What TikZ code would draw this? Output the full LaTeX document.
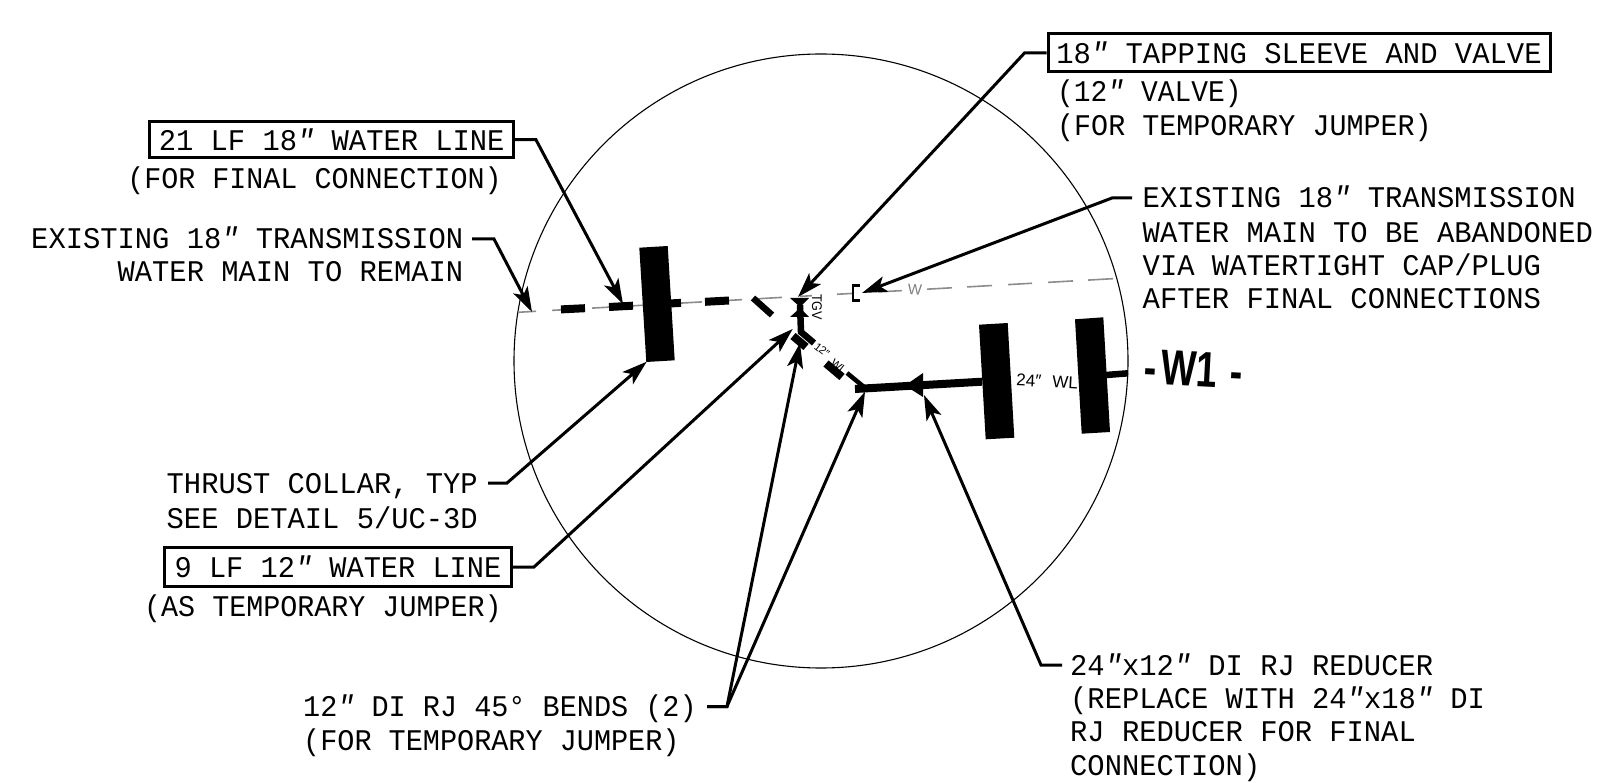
\documentclass[tikz,border=0pt]{standalone}
\usepackage{fontspec}
\usepackage{graphicx}
\setmainfont{Liberation Sans}
\newfontfamily\callout{Liberation Mono}
\newcommand{\inch}{{\itshape ″}}
\usetikzlibrary{arrows.meta}
\tikzset{
  lbl/.style={font=\callout\fontsize{30}{33}\selectfont, inner sep=0pt, text=black, xscale=.96},
  lw/.style={lbl, anchor=base west},
  le/.style={lbl, anchor=base east},
  tagbox/.style={draw=black, line width=3pt, inner sep=0pt, font=\callout\fontsize{30}{33}\selectfont},
  leader/.style={line width=3pt, draw=black, line join=miter, -{Stealth[length=25pt,width=16pt,inset=6pt]}},
  pipeA/.style={line width=8pt, draw=black},
  pipeB/.style={line width=6.5pt, draw=black},
  pipeC/.style={line width=4.5pt, draw=black},
  exist/.style={line width=1.6pt, draw=black!45},
  collar/.style={fill=black, draw=none},
  small/.style={font=\fontsize{17}{18}\selectfont, inner sep=0pt},
  tiny/.style={font=\fontsize{11}{12}\selectfont, inner sep=0pt},
}
\begin{document}
\begin{tikzpicture}[x=1pt,y=-1pt]
\useasboundingbox (0,0) rectangle (1601,783);
% key circle
\draw[line width=1.1pt] (821,361) circle[radius=307];
% existing main
\foreach \a/\b in {518/536,552/561,592/609,633/643,681/702,729/742,753/782,800/812,837/852,878/902,927/952,967/992,1008/1032,1048/1073,1088/1113}{
  \draw[exist] (\a,{312.3-(\a-518)*0.0565}) -- (\b,{312.3-(\b-518)*0.0565});
}
% new 18 in line
\draw[pipeA] (561,309.4) -- (585,308.2);
\draw[pipeA] (609,307) -- (633,305.7);
\draw[pipeA] (671,303.4) -- (681,302.9);
\draw[pipeA] (705,301.8) -- (729,300.5);
\draw[pipeB] (753,298) -- (772,315);
% collars
\fill[collar] (639.3,247.7) -- (667.7,246) -- (674.7,360.3) -- (646.3,362) -- cycle;
\fill[collar] (979,324.7) -- (1007.7,323) -- (1014.3,437.7) -- (985.7,439.3) -- cycle;
\fill[collar] (1075,319.3) -- (1103.3,317.3) -- (1110,432) -- (1081.7,433.7) -- cycle;
% valve
\fill (790,298) -- (809,298) -- (800,307) -- cycle;
\fill (790,317) -- (809,317) -- (800,308) -- cycle;
% jumper
\draw[pipeB] (800,305) -- (801,332) -- (814,343);
\draw[pipeA] (793,336) -- (806,347);
\draw[pipeA] (826,363.5) -- (842,377);
\draw[pipeC] (847,373) -- (864,387);
% 24 in
\draw[pipeA] (855,389) -- (982,381.7);
\draw[pipeB] (1106,375) -- (1128,373.3);
\fill (905,385.5) -- (923,373) -- (923,397) -- cycle;
% cap
\draw[line width=2.6pt] (860,285.5) -- (853,285.5) -- (853,300.5) -- (860,300.5);
% small labels
\node[small,rotate=-3,anchor=base west] (wl24) at (1016,385.5) {24″\hspace{.65em}WL};
\node[small,rotate=-3,text=black!50] (w) at (915,290) {\fontsize{15}{16}\selectfont W};
\node[tiny,rotate=-90,xscale=.9] (tgv) at (817,307) {\fontsize{14}{15}\selectfont TGV};
\node[tiny,rotate=-38] (t12) at (822,350) {12″};
\node[tiny,rotate=-38] (twl) at (839,366.5) {WL};
\node[inner sep=0pt,rotate=-3,xscale=.75,font=\bfseries\fontsize{50}{50}\selectfont,anchor=base west] (w1) at (1143,384) {-\hspace{.12em}W1\hspace{.36em}-};
% tip coordinates
\coordinate (tipA) at (623,304);
\coordinate (tipB) at (532,312);
\coordinate (tipC) at (798,297);
\coordinate (tipD) at (862,293);
\coordinate (tipE) at (646.7,361.7);
\coordinate (tipF) at (792.7,329);
\coordinate (tipG) at (800,343);
\coordinate (tipH) at (865,391.7);
\coordinate (tipI) at (924,395);
% boxes
\node[tagbox,minimum width=363.5pt,minimum height=36.5pt] (boxA) at (331.7,139.7) {\scalebox{.96}[1]{21 LF 18\inch{} WATER LINE}};
\node[tagbox,minimum width=502pt,minimum height=38pt] (boxB) at (1299,53) {\scalebox{.963}[1]{18\inch{} TAPPING SLEEVE AND VALVE}};
\node[tagbox,minimum width=347pt,minimum height=39pt] (boxC) at (338,567) {\scalebox{.955}[1]{9 LF 12\inch{} WATER LINE}};
% text lines
\node[le,xscale=.985] (a2) at (502,189) {(FOR FINAL CONNECTION)};
\node[le] (b1) at (463.5,249) {EXISTING 18\inch{} TRANSMISSION};
\node[le] (b2) at (463.5,282) {WATER MAIN TO REMAIN};
\node[lw,xscale=.97] (c2) at (1057,102) {(12\inch{} VALVE)};
\node[lw,xscale=.985] (c3) at (1057,136) {(FOR TEMPORARY JUMPER)};
\node[lw,xscale=1.002] (d1) at (1142.5,208) {EXISTING 18\inch{} TRANSMISSION};
\node[lw,xscale=1.002] (d2) at (1142.5,243) {WATER MAIN TO BE ABANDONED};
\node[lw,xscale=1.002] (d3) at (1142.5,275.5) {VIA WATERTIGHT CAP/PLUG};
\node[lw,xscale=1.002] (d4) at (1142.5,309) {AFTER FINAL CONNECTIONS};
\node[lw] (e1) at (166.5,493) {THRUST COLLAR, TYP};
\node[lw] (e2) at (166.5,528) {SEE DETAIL 5/UC-3D};
\node[lw,xscale=.985] (f2) at (144,616.5) {(AS TEMPORARY JUMPER)};
\node[lw,xscale=.99] (g1) at (303,716.5) {12\inch{} DI RJ 45° BENDS (2)};
\node[lw,xscale=.99] (g2) at (303,750) {(FOR TEMPORARY JUMPER)};
\node[lw] (h1) at (1070,675) {24\inch{}x12\inch{} DI RJ REDUCER};
\node[lw] (h2) at (1070,708.5) {(REPLACE WITH 24\inch{}x18\inch{} DI};
\node[lw] (h3) at (1070,741) {RJ REDUCER FOR FINAL};
\node[lw] (h4) at (1070,775) {CONNECTION)};
% leader start points
\coordinate (sB) at (472,239);
\coordinate (sD) at (1132,198);
\coordinate (sE) at (488,483);
\coordinate (sG) at (707,706.5);
\coordinate (sI) at (1062,665);
% leaders
\draw[leader] (boxA.east) -- ++(21,0) -- (tipA);
\draw[leader] (sB) -- ++(22,0) -- (tipB);
\draw[leader] (boxB.west) -- ++(-22,0) -- (tipC);
\draw[leader] (sD) -- ++(-20,0) -- (tipD);
\draw[leader] (sE) -- ++(19,0) -- (tipE);
\draw[leader] (boxC.east) -- ++(21,0) -- (tipF);
\draw[leader] (sG) -- ++(20,0) -- (tipG);
\draw[leader] (sG) -- ++(20,0) -- (tipH);
\draw[leader] (sI) -- ++(-21,0) -- (tipI);
\end{tikzpicture}
\end{document}
